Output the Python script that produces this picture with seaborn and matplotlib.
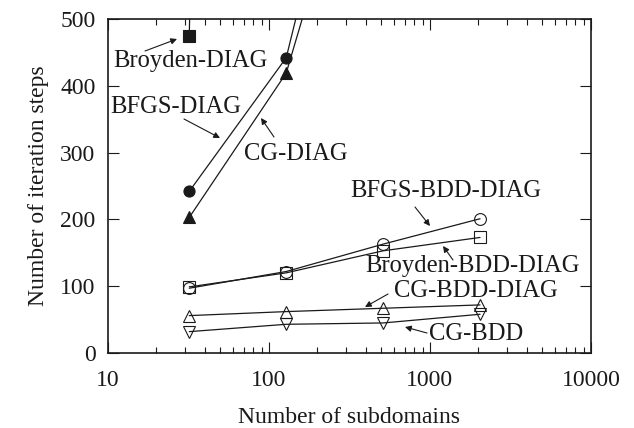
import matplotlib
matplotlib.use("Agg")
import matplotlib.pyplot as plt
import matplotlib.ticker as mticker
import seaborn as sns
import pandas as pd

subdomains = [32, 128, 512, 2048]
broyden_diag = [475, 8000]
bfgs_diag = [242, 442, 1030]
cg_diag = [203, 419, 910]
bfgs_bdd_diag = [97, 122, 163, 201]
broyden_bdd_diag = [99, 120, 153, 173]
cg_bdd_diag = [56, 62, 67, 72]
cg_bdd = [32, 43, 45, 58]

x_ticks = [10, 100, 1000, 10000]
y_ticks = [0, 100, 200, 300, 400, 500]

sns.set_theme(style="ticks")
plt.rcParams['font.family'] = ['Liberation Serif', 'DejaVu Serif']
plt.rcParams['text.color'] = 'black'
plt.rcParams['axes.labelcolor'] = 'black'
plt.rcParams['xtick.color'] = 'black'
plt.rcParams['ytick.color'] = 'black'

fig = plt.figure(figsize=(6.34, 4.28), dpi=100)
ax = fig.add_axes([0.1703, 0.1752, 0.932 - 0.1703, 0.9556 - 0.1752])

series = [
    (broyden_diag, 's', 'k'),
    (bfgs_diag, 'o', 'k'),
    (cg_diag, '^', 'k'),
    (bfgs_bdd_diag, 'o', 'white'),
    (broyden_bdd_diag, 's', 'white'),
    (cg_bdd_diag, '^', 'white'),
    (cg_bdd, 'v', 'white'),
]
for vals, mk, fc in series:
    df = pd.DataFrame({"x": subdomains[:len(vals)], "y": vals})
    sns.lineplot(data=df, x="x", y="y", ax=ax, color='k', linewidth=0.9,
                 marker=mk, markersize=8 if fc == 'k' else 8.5,
                 markerfacecolor=fc if fc == 'k' else 'none',
                 markeredgecolor='k', markeredgewidth=0.8, zorder=3)

ax.set_xscale('log')
ax.set_xlim(10, 10000)
ax.set_ylim(0, 500)
ax.set_xticks(x_ticks)
ax.xaxis.set_major_formatter(mticker.FixedFormatter([str(t) for t in x_ticks]))
ax.xaxis.set_minor_locator(mticker.LogLocator(base=10, subs=range(2, 10)))
ax.xaxis.set_minor_formatter(mticker.NullFormatter())
ax.set_yticks(y_ticks)

ax.tick_params(which='both', direction='in', top=True, right=True,
               labelsize=17, width=0.8, color='k', labelcolor='k')
ax.tick_params(axis='x', which='major', pad=12)
ax.tick_params(axis='y', which='major', pad=9)
ax.tick_params(which='major', length=8)
ax.tick_params(which='minor', length=4)
for s in ax.spines.values():
    s.set_linewidth(1.2)
    s.set_color('k')

ax.set_xlabel("Number of subdomains", fontsize=17, labelpad=12, color='k')
ax.set_ylabel("Number of iteration steps", fontsize=17, labelpad=8, color='k')

fs = 17.7
arrow = dict(arrowstyle='-|>', color='k', lw=0.8, mutation_scale=9,
             shrinkA=0, shrinkB=0)

def note(text, tx, ty, x0, y0, x1, y1):
    # coordinates in figure pixels (top-left origin)
    H = 428
    fig.text(tx / 634, 1 - ty / H, text, fontsize=fs, ha='center', va='center',
             color='k')
    ax.annotate('', xy=(x1 / 634, 1 - y1 / H), xytext=(x0 / 634, 1 - y0 / H),
                xycoords='figure fraction', textcoords='figure fraction',
                arrowprops=arrow)

note("Broyden-DIAG", 190, 61, 145, 51, 177, 39)
note("BFGS-DIAG", 176, 107, 184, 119, 220, 138)
note("CG-DIAG", 296, 154, 274, 137, 261, 118)
note("BFGS-BDD-DIAG", 446, 191, 415, 207, 430, 226)
note("Broyden-BDD-DIAG", 473, 266, 453, 260, 443, 246)
note("CG-BDD-DIAG", 476, 291, 388, 294, 365, 307)
note("CG-BDD", 476, 334, 427, 333, 405, 327)

fig.savefig("out.png", dpi=100)
